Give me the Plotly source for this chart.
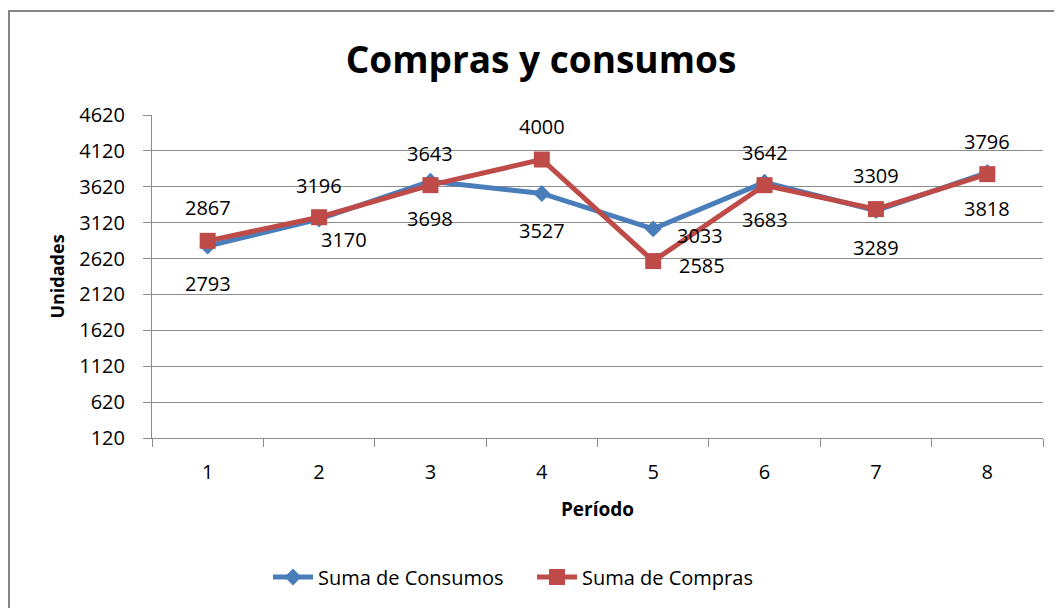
import plotly.graph_objects as go

periodos = ["1", "2", "3", "4", "5", "6", "7", "8"]
consumos = [2793, 3170, 3698, 3527, 3033, 3683, 3289, 3818]
compras = [2867, 3196, 3643, 4000, 2585, 3642, 3309, 3796]
y_ticks = [120, 620, 1120, 1620, 2120, 2620, 3120, 3620, 4120, 4620]

BLUE = "#4A7EBB"
RED = "#BE4B48"
GRID = "#8C8C8C"
FONT = "Open Sans"

# label offsets in pixels (xshift, yshift)
cons_shift = [(0, -37), (25, -20), (0, -37), (0, -37), (47, -7), (0, -37), (0, -37), (0, -36)]
comp_shift = [(0, 33), (0, 32), (0, 32), (0, 33), (49, -4), (0, 33), (0, 34), (0, 33)]

W, H = 1054, 600
L, R, T, B = 144, 19, 107, 170
PW, PH = W - L - R, H - T - B

fig = go.Figure()
fig.add_trace(go.Scatter(
    x=periodos, y=consumos, name="Suma de Consumos", mode="lines+markers",
    line=dict(color=BLUE, width=5),
    marker=dict(symbol="diamond", size=13, color=BLUE),
))
fig.add_trace(go.Scatter(
    x=periodos, y=compras, name="Suma de Compras", mode="lines+markers",
    line=dict(color=RED, width=5),
    marker=dict(symbol="square", size=16, color=RED),
))

annotations = []
for vals, shifts in ((consumos, cons_shift), (compras, comp_shift)):
    for i, (v, (dx, dy)) in enumerate(zip(vals, shifts)):
        annotations.append(dict(
            x=i, y=v, xref="x", yref="y", text=str(v), showarrow=False,
            xshift=dx, yshift=dy, font=dict(family=FONT, size=20, color="#000000"),
        ))

fig.update_layout(
    width=W, height=H,
    margin=dict(l=L, r=R, t=T, b=B),
    paper_bgcolor="white", plot_bgcolor="white",
    title=dict(text="<b>Compras y consumos</b>", x=533 / W, xref="container", xanchor="center",
               y=1 - 52 / H, yref="container", yanchor="middle",
               font=dict(family=FONT, size=37, color="#000000")),
    font=dict(family=FONT, size=20, color="#000000"),
    showlegend=True,
    legend=dict(orientation="h", x=(260 - L) / PW, xanchor="left",
                y=-(569 - (T + PH)) / PH, yanchor="middle",
                font=dict(family=FONT, size=20, color="#000000"),
                entrywidth=209, entrywidthmode="pixels", itemwidth=40),
    annotations=annotations,
    shapes=[dict(type="rect", xref="paper", yref="paper",
                 x0=(1 - L) / PW, x1=1.2, y0=-1.0, y1=(T + PH - 3) / PH,
                 line=dict(color="#858585", width=2), fillcolor="rgba(0,0,0,0)", layer="below")],
)

fig.update_xaxes(
    type="category", categoryorder="array", categoryarray=periodos,
    range=[-0.5, 7.5],
    showline=True, linecolor=GRID, linewidth=1,
    ticks="outside", tickson="boundaries", ticklen=8, tickcolor=GRID,
    ticklabelstandoff=16,
    showgrid=False,
    title=dict(text="<b>Período</b>", standoff=18, font=dict(family=FONT, size=19)),
)
fig.update_yaxes(
    range=[120, 4620], tickvals=y_ticks, ticktext=[str(t) for t in y_ticks],
    showline=True, linecolor=GRID, linewidth=1,
    ticks="outside", ticklen=8, tickcolor=GRID,
    ticklabelstandoff=14,
    showgrid=True, gridcolor=GRID, gridwidth=1, zeroline=False,
    title=dict(text="<b>Unidades</b>", standoff=9, font=dict(family=FONT, size=18)),
)

fig.write_html("out.html")
